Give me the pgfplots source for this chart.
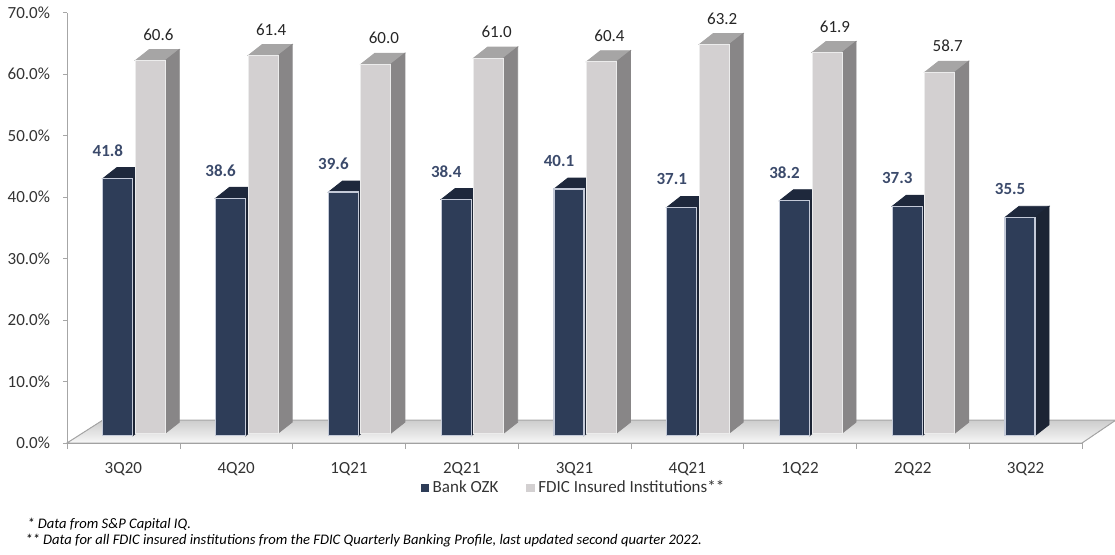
\documentclass[border=0pt]{standalone}
\usepackage{fontspec}
\setmainfont{Carlito}
\usepackage{pgfplots}
\usepackage{pgfplotstable}
\pgfplotsset{compat=1.18}

\definecolor{ozkfront}{RGB}{46,61,88}
\definecolor{ozktop}{RGB}{30,40,60}
\definecolor{ozkside}{RGB}{28,36,52}
\definecolor{ozkedge}{RGB}{196,202,216}
\definecolor{fdicfront}{RGB}{211,208,209}
\definecolor{fdictop}{RGB}{166,165,165}
\definecolor{fdicside}{RGB}{136,134,135}
\definecolor{ozklabel}{RGB}{59,74,107}
\definecolor{axisgray}{RGB}{166,166,166}

\pgfdeclareplotmark{nothing}{}

% share of noninterest expense, in percent
\pgfplotstableread{
x  ozk   fdic
1  41.8  60.6
2  38.6  61.4
3  39.6  60.0
4  38.4  61.0
5  40.1  60.4
6  37.1  63.2
7  38.2  61.9
8  37.3  58.7
9  35.5  nan
}\ratios

\begin{document}
\begin{tikzpicture}
\begin{axis}[
  scale only axis,
  width=507.5pt, height=215.25pt,
  xmin=0.5, xmax=9.5,
  ymin=0, ymax=70,
  clip=false,
  axis lines*=left,
  axis line style={axisgray},
  tick style={axisgray},
  tick align=outside,
  major tick length=2pt,
  xtick={0.5,1.5,...,9.5},
  x tick label as interval,
  xticklabels={3Q20,4Q20,1Q21,2Q21,3Q21,4Q21,1Q22,2Q22,3Q22},
  xtick style={/pgfplots/major tick length=3pt},
  ytick={0,10,...,70},
  yticklabel={\pgfmathprintnumber[fixed,fixed zerofill,precision=1,assume math mode=true]{\tick}\%},
  tick label style={font=\fontsize{8.5}{10}\selectfont, text=black!80},
  xticklabel style={yshift=-4pt},
  yticklabel style={xshift=-3pt},
  legend style={at={(0.5,0)}, anchor=center, yshift=-22.5pt, draw=none, fill=none,
    legend columns=2, font=\fontsize{8.5}{10}\selectfont, text=black!80,
    /tikz/every even column/.append style={column sep=12pt}},
]
% floor
\fill[top color=gray!40, bottom color=gray!6, draw=axisgray, line width=0.5pt]
  (axis cs:0.5,0) -- (axis cs:9.5,0) -- ([shift={(17pt,11.5pt)}]axis cs:9.5,0)
  -- ([shift={(18pt,11.5pt)}]axis cs:0.5,0) -- cycle;

\addplot[only marks, mark=nothing, scatter,
  visualization depends on={\thisrow{ozk} \as \val},
  scatter/@pre marker code/.code={
    \fill[ozktop] (-7.5pt,0pt) -- (-0.5pt,5.5pt) -- (14.5pt,5.5pt) -- (7.5pt,0pt) -- cycle;
    \fill[ozkside] (7.5pt,0pt) -- (14.5pt,5.5pt) -- (14.5pt,{5.5pt-\val*3.075pt}) -- (7.5pt,{-\val*3.075pt}) -- cycle;
    \filldraw[fill=ozkfront, draw=ozkedge, line width=0.6pt] (-7.5pt,{-\val*3.075pt}) rectangle (7.5pt,0pt);
    \node[font=\fontsize{8.5}{10}\selectfont\bfseries, text=ozklabel] at (-5pt,14pt)
      {\pgfmathprintnumber[fixed,fixed zerofill,precision=1,assume math mode=true]{\val}};
  },
  scatter/@post marker code/.code={},
  legend image code/.code={\fill[ozkfront] (0pt,-1.8pt) rectangle (3.6pt,1.8pt);},
] table[x expr=\thisrow{x}-0.049, y expr=\thisrow{ozk}+1.2] {\ratios};
\addlegendentry{Bank OZK}

\addplot[only marks, mark=nothing, scatter,
  visualization depends on={\thisrow{fdic} \as \val},
  scatter/@pre marker code/.code={
    \fill[fdictop] (-7.5pt,0pt) -- (-0.5pt,5.5pt) -- (14.5pt,5.5pt) -- (7.5pt,0pt) -- cycle;
    \fill[fdicside] (7.5pt,0pt) -- (14.5pt,5.5pt) -- (14.5pt,{5.5pt-\val*3.075pt}) -- (7.5pt,{-\val*3.075pt}) -- cycle;
    \filldraw[fill=fdicfront, draw=white!85!gray, line width=0.5pt] (-7.5pt,{-\val*3.075pt}) rectangle (7.5pt,0pt);
    \node[font=\fontsize{8.5}{10}\selectfont, text=black!85] at (4pt,13pt)
      {\pgfmathprintnumber[fixed,fixed zerofill,precision=1,assume math mode=true]{\val}};
  },
  scatter/@post marker code/.code={},
  legend image code/.code={\fill[fdicfront] (0pt,-1.8pt) rectangle (3.6pt,1.8pt);},
] table[x expr=\thisrow{x}+0.239, y expr=\thisrow{fdic}+1.6] {\ratios};
\addlegendentry{FDIC Insured Institutions**}

\node[anchor=west, font=\itshape\fontsize{7.3}{9}\selectfont, inner sep=0pt]
  at ([xshift=-20pt, yshift=-40.5pt]rel axis cs:0,0) {* Data from S\&P Capital IQ.};
\node[anchor=west, font=\itshape\fontsize{7.3}{9}\selectfont, inner sep=0pt]
  at ([xshift=-21pt, yshift=-49pt]rel axis cs:0,0) {** Data for all FDIC insured institutions from the FDIC Quarterly Banking Profile, last updated second quarter 2022.};
\end{axis}
\pgfresetboundingbox
\useasboundingbox (-33.5pt,-55.5pt) rectangle (524pt,221.5pt);
\end{tikzpicture}
\end{document}
